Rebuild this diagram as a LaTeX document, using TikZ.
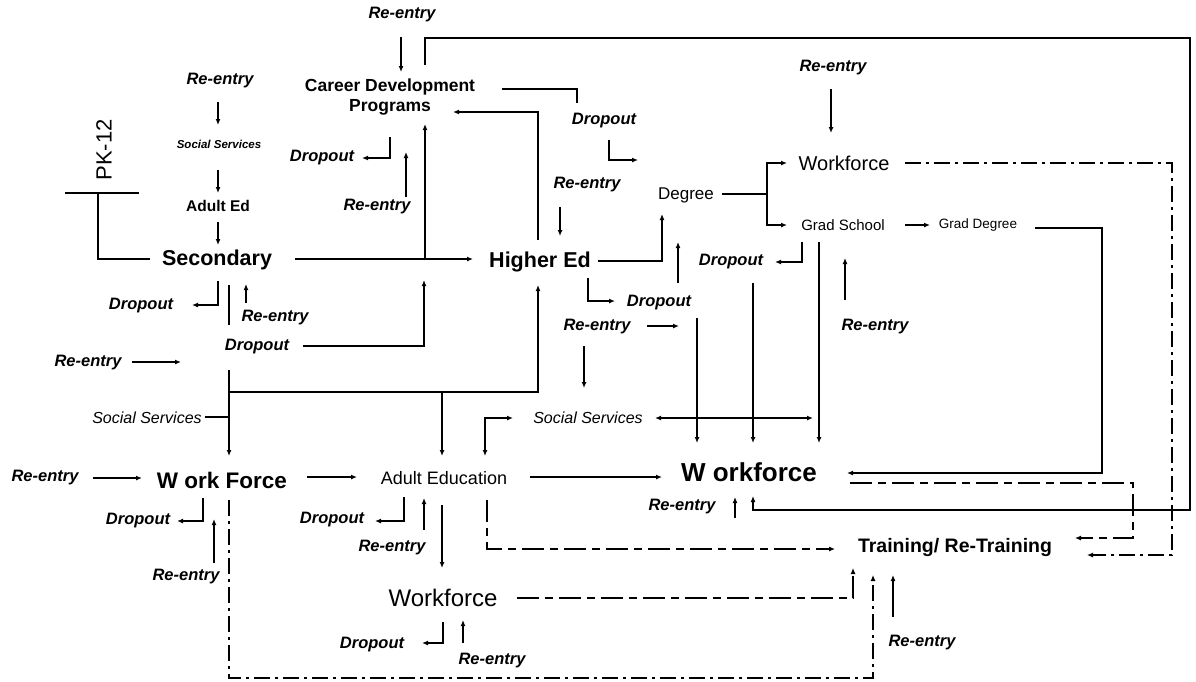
\documentclass[tikz,border=0pt]{standalone}
\usepackage{fontspec}
\setmainfont{Liberation Sans}
\usetikzlibrary{arrows.meta}
\tikzset{
  lab/.style={inner sep=0pt, font=\fontsize{16.5}{17}\selectfont\bfseries\itshape},
  bigb/.style={inner sep=0pt, font=\fontsize{21.5}{22}\selectfont\bfseries},
  ln/.style={line width=1.4pt},
  arr/.style={line width=1.4pt, -{Latex[length=6pt,width=5pt]}},
  darr/.style={line width=1.4pt, {Latex[length=6pt,width=5pt]}-{Latex[length=6pt,width=5pt]}},
  dd/.style={line width=1.1pt, dash pattern=on 16pt off 5pt on 3pt off 5pt, -{Latex[length=6pt,width=5pt]}},
  ds/.style={line width=1.1pt, dash pattern=on 22pt off 6pt on 8pt off 6pt, -{Latex[length=6pt,width=5pt]}},
}
\begin{document}
\begin{tikzpicture}[x=1pt,y=-1pt]
\useasboundingbox[fill=white] (0,0) rectangle (1196,681);

% ---------- nodes ----------
\node[lab] (reA) at (402,15) {Re-entry};
\node[inner sep=0pt, align=center, font=\fontsize{17.5}{20}\selectfont\bfseries] (cdp) at (390,97) {Career Development\\Programs};
\node[lab] (reB) at (220,81) {Re-entry};
\node[inner sep=0pt, font=\fontsize{11.5}{12}\selectfont\bfseries\itshape] (ssA) at (219,144) {Social Services};
\node[inner sep=0pt, font=\fontsize{15.5}{16}\selectfont\bfseries] (aed) at (218,206) {Adult Ed};
\node[inner sep=0pt, rotate=90, font=\fontsize{22}{22}\selectfont] (pk) at (104,150) {PK-12};
\node[bigb] (sec) at (217,260) {Secondary};
\node[lab] (doA) at (322,158) {Dropout};
\node[lab] (reC) at (377,207) {Re-entry};
\node[lab] (doB) at (604,121) {Dropout};
\node[lab] (reD) at (587,185) {Re-entry};
\node[bigb] (hed) at (540,262) {Higher Ed};
\node[inner sep=0pt, font=\fontsize{17}{18}\selectfont] (deg) at (686,195) {Degree};
\node[inner sep=0pt, font=\fontsize{20}{21}\selectfont] (wfA) at (844,163) {Workforce};
\node[lab] (reE) at (833,68) {Re-entry};
\node[inner sep=0pt, font=\fontsize{15}{16}\selectfont] (gs) at (843,225) {Grad School};
\node[inner sep=0pt, font=\fontsize{13.5}{14}\selectfont] (gd) at (978,225) {Grad Degree};
\node[lab] (doC) at (731,262) {Dropout};
\node[lab] (doD) at (659,303) {Dropout};
\node[lab] (reF) at (597,327) {Re-entry};
\node[lab] (reG) at (875,327) {Re-entry};
\node[lab] (doE) at (141,306) {Dropout};
\node[lab] (reH) at (275,318) {Re-entry};
\node[lab] (doF) at (257,347) {Dropout};
\node[lab] (reI) at (88,363) {Re-entry};
\node[inner sep=0pt, font=\fontsize{16}{17}\selectfont\itshape] (ssB) at (147,418) {Social Services};
\node[inner sep=0pt, font=\fontsize{16}{17}\selectfont\itshape] (ssC) at (588,418) {Social Services};
\node[lab] (reJ) at (45,478) {Re-entry};
\node[inner sep=0pt, font=\fontsize{22.5}{23}\selectfont\bfseries] (wf) at (222,480) {W ork Force};
\node[lab] (doG) at (138,521) {Dropout};
\node[lab] (reK) at (186,577) {Re-entry};
\node[inner sep=0pt, font=\fontsize{18}{19}\selectfont] (ae) at (444,478) {Adult Education};
\node[lab] (doH) at (332,520) {Dropout};
\node[lab] (reL) at (392,548) {Re-entry};
\node[inner sep=0pt, font=\fontsize{24}{25}\selectfont] (wfC) at (443,598) {Workforce};
\node[lab] (doI) at (372,645) {Dropout};
\node[lab] (reM) at (492,661) {Re-entry};
\node[inner sep=0pt, font=\fontsize{26}{27}\selectfont\bfseries] (wfB) at (749,472) {W orkforce};
\node[lab] (reN) at (682,507) {Re-entry};
\node[inner sep=0pt, font=\fontsize{19.5}{20}\selectfont\bfseries] (tr) at (955,547) {Training/ Re-Training};
\node[lab] (reO) at (922,643) {Re-entry};

% ---------- left column ----------
\draw[arr] (218,102) -- (218,125);
\draw[arr] (218,170) -- (218,193);
\draw[arr] (218,222) -- (218,245);
\draw[ln] (65,193) -- (139,193);
\draw[ln] (98,193) -- (98,259) -- (150,259);

% ---------- Secondary ----------
\draw[arr] (295,259) -- (473,259);
\draw[arr] (425,259) -- (425,124);
\draw[arr] (218,281) -- (218,305) -- (192,305);
\draw[ln] (229,285) -- (229,325);
\draw[arr] (246,303) -- (246,284);
\draw[arr] (303,346) -- (424,346) -- (424,280);
\draw[arr] (132,362) -- (181,362);
\draw[arr] (229,370) -- (229,456);
\draw[arr] (229,392) -- (538,392) -- (538,285);
\draw[arr] (442,392) -- (442,456);
\draw[ln] (205,417) -- (229,417);

% ---------- Career Development ----------
\draw[arr] (401,37) -- (401,72);
\draw[arr] (425,65) -- (425,38) -- (1190,38) -- (1190,510) -- (753,510) -- (753,496);
\draw[ln] (502,89) -- (577,89) -- (577,103);
\draw[arr] (609,140) -- (609,160) -- (638,160);
\draw[arr] (390,137) -- (390,158) -- (362,158);
\draw[arr] (406,197) -- (406,152);

% ---------- Higher Ed ----------
\draw[arr] (538,240) -- (538,112) -- (453,112);
\draw[arr] (560,207) -- (560,236);
\draw[arr] (598,261) -- (662,261) -- (662,214);
\draw[arr] (588,278) -- (588,301) -- (615,301);
\draw[arr] (678,283) -- (678,242);
\draw[arr] (647,326) -- (679,326);
\draw[arr] (584,346) -- (584,388);
\draw[darr] (485,456) -- (485,418) -- (513,418);
\draw[darr] (655,418) -- (813,418);
\draw[arr] (697,318) -- (697,443);
\draw[arr] (753,283) -- (753,443);
\draw[arr] (819,242) -- (819,443);

% ---------- Degree / Grad ----------
\draw[ln] (722,194) -- (767,194);
\draw[arr] (767,194) -- (767,163) -- (787,163);
\draw[arr] (767,194) -- (767,225) -- (787,225);
\draw[arr] (831,89) -- (831,133);
\draw[arr] (802,242) -- (802,262) -- (775,262);
\draw[arr] (845,300) -- (845,258);
\draw[arr] (905,225) -- (930,225);
\draw[arr] (1035,228) -- (1102,228) -- (1102,473) -- (847,473);

% ---------- dashed to Training ----------
\draw[dd] (905,163) -- (1172,163) -- (1172,555) -- (1087,555);
\draw[ds] (850,483) -- (1133,483) -- (1133,538) -- (1075,538);
\draw[ds] (487,500) -- (487,549) -- (835,549);
\draw[ds] (517,598) -- (853,598) -- (853,568);
\draw[dd] (229,500) -- (229,678) -- (873,678) -- (873,575);
\draw[arr] (893,617) -- (893,575);

% ---------- Work Force / Adult Ed ----------
\draw[arr] (93,478) -- (142,478);
\draw[arr] (307,477) -- (357,477);
\draw[arr] (530,477) -- (662,477);
\draw[arr] (203,498) -- (203,521) -- (177,521);
\draw[arr] (214,563) -- (214,519);
\draw[arr] (404,497) -- (404,521) -- (375,521);
\draw[arr] (424,530) -- (424,498);
\draw[arr] (442,505) -- (442,568);
\draw[arr] (443,622) -- (443,643) -- (422,643);
\draw[arr] (463,643) -- (463,620);
\draw[arr] (735,518) -- (735,497);
\end{tikzpicture}
\end{document}
